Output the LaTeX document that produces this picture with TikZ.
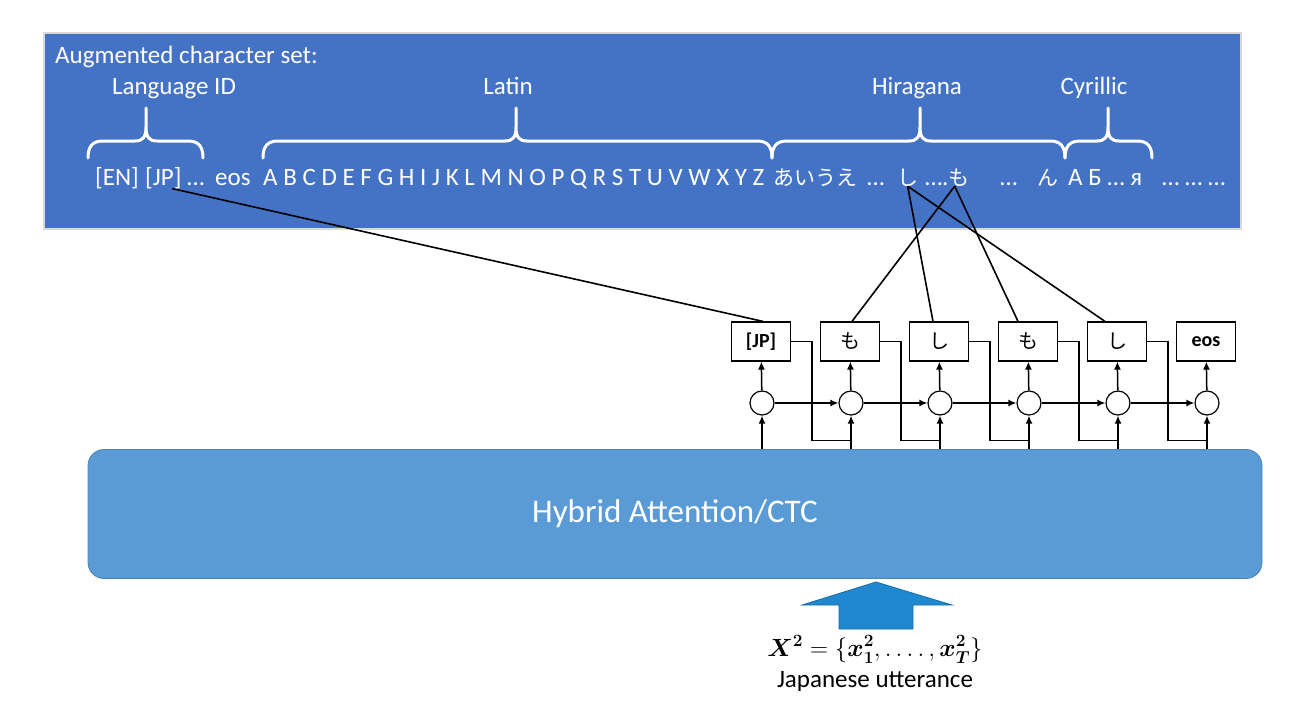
\documentclass[tikz,border=0pt]{standalone}
\usepackage{amsmath}
\usepackage{fontspec}
\setmainfont{Carlito}
\newfontfamily\jpfont{Noto Sans CJK JP}
\usetikzlibrary{arrows.meta}

\definecolor{setblue}{HTML}{4472C4}
\definecolor{netblue}{HTML}{5B9BD5}
\definecolor{inblue}{HTML}{1F88D0}

% curly brace over a group of characters: left end, tip, right end
\newcommand{\charbrace}[3]{%
  \draw[charbrace] (#1,158) .. controls (#1,147) and (#1+4,141) .. (#1+15,141)
    -- (#2-11,141) .. controls (#2-3,141) and (#2,137) .. (#2,127) -- (#2,108)
    (#2,127) .. controls (#2,137) and (#2+3,141) .. (#2+11,141)
    -- (#3-15,141) .. controls (#3-4,141) and (#3,147) .. (#3,158);}

\begin{document}
\begin{tikzpicture}[x=1pt, y=-1pt,
  settext/.style={text=white, font=\fontsize{25}{30}\selectfont, inner sep=0pt, anchor=base west},
  kanatext/.style={settext, font=\jpfont\fontsize{21}{26}\selectfont},
  grouplabel/.style={text=white, font=\fontsize{25}{30}\selectfont, inner sep=0pt, anchor=base},
  charbrace/.style={draw=white, line width=3pt, line cap=round},
  outbox/.style={draw, line width=1.2pt, fill=white, minimum width=59pt, minimum height=39pt,
    inner sep=0pt, font=\bfseries\fontsize{20}{24}\selectfont},
  kanabox/.style={outbox, font=\jpfont\fontsize{20}{24}\selectfont},
  state/.style={circle, draw, line width=1.2pt, fill=white, minimum size=24pt, inner sep=0pt},
  link/.style={line width=1.6pt},
  flow/.style={line width=1.5pt, -{Latex[length=8pt,width=7pt]}}]
\useasboundingbox (0,0) rectangle (1291,728);

% Augmented character set
\draw[draw=gray!30, line width=1.5pt, fill=setblue] (44,33) rectangle (1241,229);
\node[settext] (title) at (55,63) {Augmented character set:};

% Group labels
\node[grouplabel] (lid) at (174,94) {Language ID};
\node[grouplabel] (lat) at (508,94) {Latin};
\node[grouplabel] (hira) at (917,94) {Hiragana};
\node[grouplabel] (cyr) at (1094,94) {Cyrillic};

% Braces
\charbrace{88}{146}{203}
\charbrace{263}{516}{772}
\charbrace{772}{920}{1065}
\charbrace{1065}{1108}{1152}

% Character row
\node[settext] (en) at (95,185) {[EN]};
\node[settext] (jp) at (145,185) {[JP]};
\node[settext] (dots1) at (187,185) {…};
\node[settext] (eos) at (215,185) {eos};
\node[settext] (latin) at (263,185) {A B C D E F G H I J K L M N O P Q R S T U V W X Y Z};
\node[kanatext] (kana) at (773,185) {あいうえ};
\node[settext] (dots2) at (867,185) {…};
\node[kanatext] (shi) at (897,185) {し};
\node[settext] (dots3) at (925,185) {…};
\node[settext] (dot) at (942,185) {.};
\node[kanatext] (mo) at (948,185) {も};
\node[settext] (dots4) at (1000,185) {…};
\node[kanatext] (n) at (1037,185) {ん};
\node[settext] (cyril) at (1068,185) {А Б … я};
\node[settext] (dots5) at (1162,185) {… … …};

% Hybrid Attention/CTC
\node[draw=netblue!85!black, line width=0.8pt, fill=netblue, rounded corners=16pt,
  minimum width=1174pt, minimum height=129pt, text=white,
  font=\fontsize{33}{40}\selectfont] (net) at (675,514) {Hybrid Attention/CTC};

% Output labels
\node[outbox] (o1) at (761,341.5) {[JP]};
\node[kanabox] (o2) at (850,341.5) {も};
\node[kanabox] (o3) at (939,341.5) {し};
\node[kanabox] (o4) at (1028,341.5) {も};
\node[kanabox] (o5) at (1117,341.5) {し};
\node[outbox] (o6) at (1206,341.5) {eos};

% Decoder states
\node[state] (s1) at (762,403) {};
\node[state] (s2) at (851,403) {};
\node[state] (s3) at (940,403) {};
\node[state] (s4) at (1029,403) {};
\node[state] (s5) at (1118,403) {};
\node[state] (s6) at (1207,403) {};

% Encoder to states
\draw[flow] (s1 |- net.north) -- (s1);
\draw[flow] (s2 |- net.north) -- (s2);
\draw[flow] (s3 |- net.north) -- (s3);
\draw[flow] (s4 |- net.north) -- (s4);
\draw[flow] (s5 |- net.north) -- (s5);
\draw[flow] (s6 |- net.north) -- (s6);

% States to outputs
\draw[flow] (s1) -- (o1);
\draw[flow] (s2) -- (o2);
\draw[flow] (s3) -- (o3);
\draw[flow] (s4) -- (o4);
\draw[flow] (s5) -- (o5);
\draw[flow] (s6) -- (o6);

% Recurrence
\draw[flow] (s1) -- (s2);
\draw[flow] (s2) -- (s3);
\draw[flow] (s3) -- (s4);
\draw[flow] (s4) -- (s5);
\draw[flow] (s5) -- (s6);

% Previous output fed back
\draw[link] (o1.east) -- ++(21,0) |- ([yshift=-25pt]s2.south);
\draw[link] (o2.east) -- ++(21,0) |- ([yshift=-25pt]s3.south);
\draw[link] (o3.east) -- ++(21,0) |- ([yshift=-25pt]s4.south);
\draw[link] (o4.east) -- ++(21,0) |- ([yshift=-25pt]s5.south);
\draw[link] (o5.east) -- ++(21,0) |- ([yshift=-25pt]s6.south);

% Mapping to the character set
\draw[link] ([xshift=9pt]jp.south) -- ([xshift=2pt]o1.north);
\draw[link] ([xshift=-4pt]mo.south) -- ([xshift=2pt]o2.north);
\draw[link] ([xshift=-4pt]mo.south) -- ([xshift=-10pt]o4.north);
\draw[link] (shi.south) -- ([xshift=-6pt]o3.north);
\draw[link] (shi.south) -- ([xshift=-12pt]o5.north);

% Input
\draw[fill=inblue, draw=inblue!80!black, line width=0.8pt]
  (802,605) -- (876,582) -- (952,605) -- (913,605) -- (913,629) -- (839,629) -- (839,605) -- cycle;
\node[inner sep=0pt, anchor=base, font=\fontsize{23}{27}\selectfont] (xin) at (875,656)
  {$\boldsymbol{X^{2}} = \{\boldsymbol{x_{1}^{2}}, \ldots.\,, \boldsymbol{x_{T}^{2}}\}$};
\node[inner sep=0pt, anchor=base, font=\fontsize{25}{30}\selectfont] (utt) at (875,687) {Japanese utterance};
\end{tikzpicture}
\end{document}
